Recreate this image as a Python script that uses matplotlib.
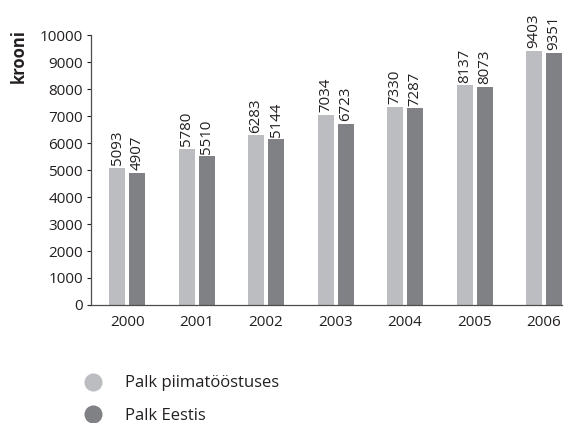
import numpy as np
import matplotlib.pyplot as plt
from matplotlib.lines import Line2D

plt.rcParams['font.family'] = ['Open Sans', 'DejaVu Sans']

# data
years = ['2000', '2001', '2002', '2003', '2004', '2005', '2006']
palk_piim = [5093, 5780, 6283, 7034, 7330, 8137, 9403]
palk_eesti = [4907, 5510, 6140, 6723, 7287, 8073, 9351]
# labels as printed in the source (2002 label differs from drawn bar)
labels_piim = ['5093', '5780', '6283', '7034', '7330', '8137', '9403']
labels_eesti = ['4907', '5510', '5144', '6723', '7287', '8073', '9351']
series_names = ['Palk piimatööstuses', 'Palk Eestis']

c_light = '#bcbdc1'
c_dark = '#808184'
c_text = '#231f20'

fig = plt.figure(figsize=(5.66, 4.23), dpi=100)
ax = fig.add_axes([0.161, 0.279, 0.832, 0.638])

x = np.arange(len(years))
w = 0.23
off = 0.144
b1 = ax.bar(x - off, palk_piim, w, color=c_light)
b2 = ax.bar(x + off, palk_eesti, w, color=c_dark)

for bars, labs in ((b1, labels_piim), (b2, labels_eesti)):
    for r, lab in zip(bars, labs):
        ax.annotate(lab, (r.get_x() + r.get_width() / 2, r.get_height()),
                    xytext=(0, 2), textcoords='offset points',
                    rotation=90, ha='center', va='bottom',
                    fontsize=10.8, color=c_text)

ax.set_xlim(-0.518, 6.259)
ax.set_ylim(0, 10000)
ax.set_yticks(range(0, 10001, 1000))
ax.set_xticks(x)
ax.set_xticklabels(years)
ax.tick_params(axis='x', length=0, pad=7, labelsize=11, colors=c_text)
ax.tick_params(axis='y', length=3, width=0.8, pad=3, labelsize=11,
               colors=c_text, direction='out')
for s in ['top', 'right']:
    ax.spines[s].set_visible(False)
for s in ['left', 'bottom']:
    ax.spines[s].set_color('#4d4d4f')
    ax.spines[s].set_linewidth(0.9)

fig.text(0.033, 0.93, 'krooni', rotation=90, ha='center', va='top',
         fontsize=12, fontweight='bold', color=c_text)

handles = [Line2D([], [], marker='o', ls='none', markersize=13,
                  markerfacecolor=c_light, markeredgecolor='none'),
           Line2D([], [], marker='o', ls='none', markersize=13,
                  markerfacecolor=c_dark, markeredgecolor='none')]
fig.legend(handles, series_names, loc='upper left',
           bbox_to_anchor=(0.108, 0.148), frameon=False,
           fontsize=12, labelspacing=1.0, handletextpad=0.92,
           labelcolor=c_text)

fig.savefig('out.png', dpi=100)
